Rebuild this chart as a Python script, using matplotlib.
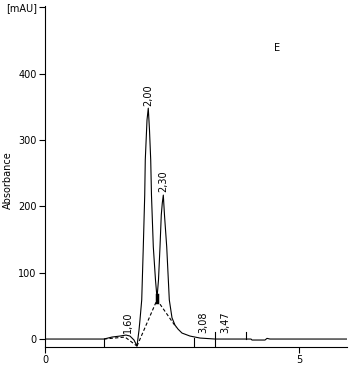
import matplotlib
matplotlib.use("Agg")
import matplotlib.pyplot as plt

# chromatogram trace (min, mAU)
time = [0.0, 1.161, 1.319, 1.476, 1.594, 1.673, 1.752, 1.811, 1.850, 1.870,
        1.904, 1.935, 1.963, 1.974, 2.008, 2.033, 2.057, 2.081, 2.096, 2.132,
        2.175, 2.205, 2.234, 2.264, 2.289, 2.309, 2.329, 2.352, 2.396, 2.447,
        2.500, 2.559, 2.618, 2.697, 2.854, 3.051, 3.346, 4.055, 4.075, 4.331,
        4.370, 4.429, 5.945]
absorb = [0, 0, 3, 4.5, 6, 4.5, -1.5, -10.6, 13, 29,
          59, 139, 217, 270, 330, 348, 315, 270, 217, 139,
          89, 62, 89, 139, 187, 205, 217, 187, 139, 59,
          32, 21, 15, 9, 4.5, 1.5, 0, 0, -1.5, -1.5,
          1, 0, 0]

# integration baselines (dashed)
base1_t = [1.161, 1.575, 1.811]
base1_a = [0, 3, -10.6]
base2_t = [1.811, 2.205, 2.579]
base2_a = [-10.6, 59, 18]

# peak start/end markers: (time, from, to)
markers = [(1.161, 0, -12), (2.933, 1.5, -12), (3.346, 10.6, -12), (3.957, 10.6, 0)]

peak_labels = ["1,60", "2,00", "2,30", "3,08", "3,47"]
label_t = [1.63, 2.033, 2.33, 3.11, 3.54]
label_a = [9, 351, 222, 9, 9]

ytick_vals = [0, 100, 200, 300, 400, 500]
ytick_text = ["0", "100", "200", "300", "400", "[mAU]"]
xtick_vals = [0, 5]

fig = plt.figure(figsize=(3.53, 3.65), dpi=100)
ax = fig.add_axes([45 / 353, 18 / 365, 302 / 353, 341 / 365])

ax.plot(time, absorb, color="black", lw=0.8)
ax.plot(base1_t, base1_a, color="black", lw=0.8, ls=(0, (3, 2)))
ax.plot(base2_t, base2_a, color="black", lw=0.8, ls=(0, (3, 2)))
ax.plot([2.205, 2.205], [56, 66], color="black", lw=2.5)
for t, a0, a1 in markers:
    ax.plot([t, t], [a0, a1], color="black", lw=0.8)

for lab, t, a in zip(peak_labels, label_t, label_a):
    ax.text(t, a, lab, rotation=90, ha="center", va="bottom", fontsize=7)

ax.text(4.57, 438, "E", ha="center", va="center", fontsize=7)

ax.set_xlim(0, 5.945)
ax.set_ylim(-12, 502)
ax.set_xticks(xtick_vals)
ax.set_yticks(ytick_vals)
ax.set_yticklabels(ytick_text)
ax.tick_params(labelsize=7, length=4, width=0.8, pad=2)
ax.set_ylabel("Absorbance", fontsize=7)
ax.yaxis.set_label_coords(-0.105, 0.49)

for s in ["top", "right"]:
    ax.spines[s].set_visible(False)
for s in ["left", "bottom"]:
    ax.spines[s].set_linewidth(0.8)

fig.savefig("out.png", dpi=100)
